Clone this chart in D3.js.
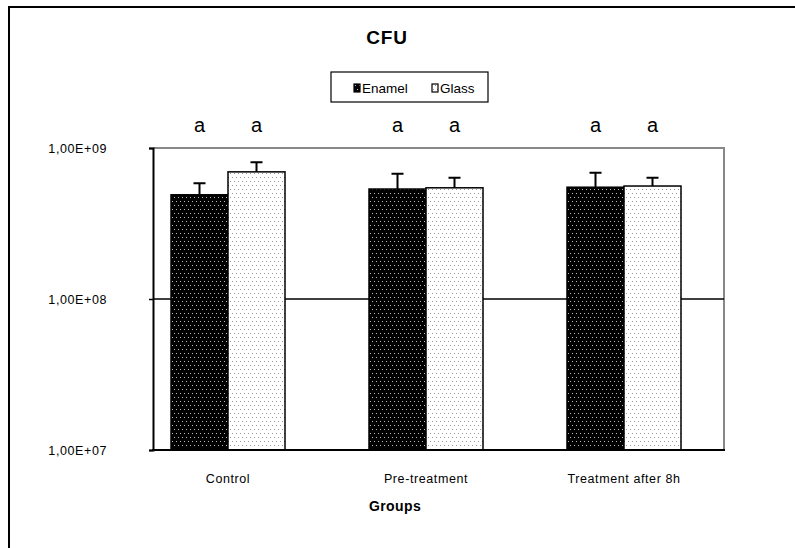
<!DOCTYPE html>
<html>
<head>
<meta charset="utf-8">
<script src="https://cdn.jsdelivr.net/npm/d3@7/dist/d3.min.js"></script>
<style>
  html, body { margin: 0; padding: 0; background: #fff; }
  svg { display: block; font-family: Arial, "Liberation Sans", sans-serif; }
</style>
</head>
<body>
<svg id="chart" width="795" height="548"></svg>
<script>
// Colony forming units per group, enamel vs glass substrate
const groups = ["Control", "Pre-treatment", "Treatment after 8h"];
const seriesNames = ["Enamel", "Glass"];
const enamelMeans = [4.9e8, 5.35e8, 5.5e8];
const enamelErrors = [0.95e8, 1.4e8, 1.35e8];
const glassMeans = [6.95e8, 5.45e8, 5.6e8];
const glassErrors = [1.1e8, 0.9e8, 0.75e8];
const letters = [["a", "a"], ["a", "a"], ["a", "a"]];
const yTicks = [1e7, 1e8, 1e9];
const yTickLabels = ["1,00E+07", "1,00E+08", "1,00E+09"];

const FONT = "Arial, 'Liberation Sans', sans-serif";
const svg = d3.select("#chart");

// Frame around the whole chart area
svg.append("rect")
  .attr("x", 9).attr("y", 7).attr("width", 820).attr("height", 580)
  .attr("fill", "none").attr("stroke", "#000").attr("stroke-width", 2);

// Fill patterns for the two substrates
const defs = svg.append("defs");
const pE = defs.append("pattern").attr("id", "patEnamel")
  .attr("patternUnits", "userSpaceOnUse").attr("width", 8).attr("height", 8);
pE.append("rect").attr("width", 8).attr("height", 8).attr("fill", "#000");
[[1, 1], [5, 1], [3, 5], [7, 5]].forEach(([x, y]) =>
  pE.append("rect").attr("x", x).attr("y", y).attr("width", 1).attr("height", 1).attr("fill", "#bbb"));
const pG = defs.append("pattern").attr("id", "patGlass")
  .attr("patternUnits", "userSpaceOnUse").attr("width", 8).attr("height", 8);
pG.append("rect").attr("width", 8).attr("height", 8).attr("fill", "#fff");
[[1, 1], [5, 1], [3, 5], [7, 5]].forEach(([x, y]) =>
  pG.append("rect").attr("x", x).attr("y", y).attr("width", 1).attr("height", 1).attr("fill", "#999"));

const fills = ["url(#patEnamel)", "url(#patGlass)"];

// Plot area
const plotL = 153, plotR = 724, plotT = 148, plotB = 450;

const y = d3.scaleLog().domain([1e7, 1e9]).range([plotB, plotT]);
const x0 = d3.scaleBand().domain(groups).range([129, 723]).paddingInner(0).paddingOuter(0);
const x1 = d3.scaleBand().domain(seriesNames).range([0, 114]);

// Plot border (grey top/right)
svg.append("path")
  .attr("d", `M${plotL},${plotT}H${plotR}V${plotB}`)
  .attr("fill", "none").attr("stroke", "#888").attr("stroke-width", 2);

// Gridlines
svg.append("g").selectAll("line")
  .data(yTicks.filter(t => t > 1e7 && t < 1e9))
  .join("line")
  .attr("x1", plotL).attr("x2", plotR)
  .attr("y1", d => y(d)).attr("y2", d => y(d))
  .attr("stroke", "#000").attr("stroke-width", 1.5);

// Title
svg.append("text").attr("x", 387).attr("y", 44)
  .attr("text-anchor", "middle").attr("font-weight", "bold").attr("font-size", 19)
  .attr("letter-spacing", 0.8)
  .text("CFU");

// Legend
const lg = svg.append("g");
lg.append("rect").attr("x", 331).attr("y", 72).attr("width", 157).attr("height", 30)
  .attr("fill", "#fff").attr("stroke", "#000").attr("stroke-width", 1.2);
const legendX = [354, 432];
seriesNames.forEach((s, i) => {
  lg.append("rect").attr("x", legendX[i]).attr("y", 84).attr("width", 6).attr("height", 8)
    .attr("fill", fills[i]).attr("stroke", "#000").attr("stroke-width", 1.2);
  lg.append("text").attr("x", legendX[i] + 8).attr("y", 93)
    .attr("font-size", 13.5).text(s);
});

// Bars
const rows = groups.map((g, i) => ({
  group: g,
  vals: [
    { s: "Enamel", v: enamelMeans[i], e: enamelErrors[i], letter: letters[i][0], k: 0 },
    { s: "Glass", v: glassMeans[i], e: glassErrors[i], letter: letters[i][1], k: 1 }
  ]
}));

const off = (x0.bandwidth() - 114) / 2;
const gg = svg.append("g").selectAll("g").data(rows).join("g")
  .attr("transform", d => `translate(${x0(d.group) + off},0)`);

// Error bars (upper only)
gg.selectAll("path.err").data(d => d.vals).join("path")
  .attr("class", "err")
  .attr("d", d => {
    const cx = x1(d.s) + x1.bandwidth() / 2;
    const yt = y(d.v + d.e);
    return `M${cx},${y(d.v)}V${yt}M${cx - 6},${yt}H${cx + 6}`;
  })
  .attr("fill", "none").attr("stroke", "#000").attr("stroke-width", 2);

gg.selectAll("rect.bar").data(d => d.vals).join("rect")
  .attr("class", "bar")
  .attr("x", d => x1(d.s)).attr("width", x1.bandwidth())
  .attr("y", d => y(d.v)).attr("height", d => plotB - y(d.v))
  .attr("fill", d => fills[d.k]).attr("stroke", "#000").attr("stroke-width", 1.5);

// Significance letters
gg.selectAll("text.letter").data(d => d.vals).join("text")
  .attr("class", "letter")
  .attr("x", d => x1(d.s) + x1.bandwidth() / 2).attr("y", 132)
  .attr("text-anchor", "middle").attr("font-size", 20)
  .text(d => d.letter);

// Axes
const yAxis = d3.axisLeft(y).tickValues(yTicks)
  .tickFormat((d, i) => yTickLabels[i]).tickSize(4).tickPadding(42);
const ya = svg.append("g").attr("transform", `translate(${plotL},0)`).call(yAxis);
ya.attr("font-size", null).attr("font-family", null);
ya.select(".domain").attr("stroke", "#000").attr("stroke-width", 2);
ya.selectAll(".tick line").attr("stroke", "#000").attr("stroke-width", 1.5);
ya.selectAll(".tick text").attr("fill", "#000")
  .style("font-size", "12.5px").style("font-family", FONT).style("letter-spacing", "0.6px");

svg.append("line").attr("x1", plotL - 1).attr("x2", plotR + 1)
  .attr("y1", plotB).attr("y2", plotB)
  .attr("stroke", "#000").attr("stroke-width", 2);

const xAxis = d3.axisBottom(x0).tickSize(0).tickPadding(24);
const xa = svg.append("g").attr("transform", `translate(0,${plotB})`).call(xAxis);
xa.attr("font-size", null).attr("font-family", null);
xa.select(".domain").remove();
xa.selectAll(".tick text").attr("fill", "#000")
  .style("font-size", "12.5px").style("font-family", FONT).style("letter-spacing", "0.6px");

svg.append("text").attr("x", 395).attr("y", 511)
  .attr("text-anchor", "middle").attr("font-weight", "bold").attr("font-size", 14)
  .attr("letter-spacing", 0.4)
  .text("Groups");
</script>
</body>
</html>
